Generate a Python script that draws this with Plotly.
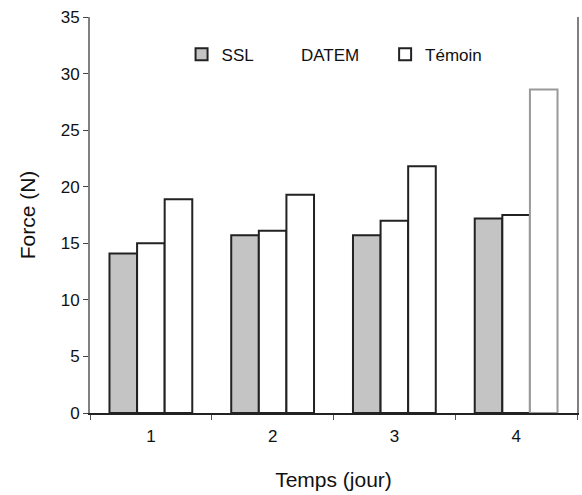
import plotly.graph_objects as go

days = ["1", "2", "3", "4"]
ssl = [14.1, 15.7, 15.7, 17.2]
datem = [15.0, 16.1, 17.0, 17.5]
temoin = [18.9, 19.3, 21.8, 28.6]

FONT = "Liberation Sans, Arial, sans-serif"

fig = go.Figure()
fig.add_trace(go.Bar(name="SSL", x=days, y=ssl,
                     marker=dict(color="#c4c4c4", line=dict(color="#222222", width=2)),
                     legend="legend"))
fig.add_trace(go.Bar(name="DATEM", x=days, y=datem,
                     marker=dict(color="white", line=dict(color="#222222", width=2)),
                     showlegend=False))
fig.add_trace(go.Bar(name="Témoin", x=days, y=temoin,
                     marker=dict(color="white",
                                 line=dict(color=["#222222", "#222222", "#222222", "#999999"], width=2)),
                     legend="legend3"))
# legend entry for DATEM (its symbol is blank in the original)
fig.add_trace(go.Scatter(name="DATEM", x=[None], y=[None], mode="markers",
                         marker=dict(symbol="square", color="white", size=10,
                                     line=dict(color="white", width=0)),
                         legend="legend2"))

legend_common = dict(orientation="h", yanchor="middle", y=0.905, xanchor="left",
                     bgcolor="rgba(0,0,0,0)", font=dict(family=FONT, size=17, color="#111"))

fig.update_layout(
    width=582, height=495,
    margin=dict(l=90, r=5, t=17, b=82),
    paper_bgcolor="white", plot_bgcolor="white",
    barmode="group", bargap=0.32, bargroupgap=0,
    font=dict(family=FONT, size=17, color="#111"),
    showlegend=True,
    legend=dict(legend_common, x=0.188),
    legend2=dict(legend_common, x=0.351),
    legend3=dict(legend_common, x=0.606),
)
fig.update_xaxes(
    type="category", showgrid=False, showline=True, linecolor="#222", linewidth=2,
    ticks="outside", tickson="boundaries", ticklen=5, tickcolor="#555",
    ticklabelstandoff=7,
    tickfont=dict(family=FONT, size=17), automargin=False,
    title=dict(text="Temps (jour)", font=dict(family=FONT, size=21), standoff=27),
)
fig.update_yaxes(
    range=[0, 35], dtick=5, showgrid=False, zeroline=False,
    showline=True, linecolor="#808080", linewidth=2, mirror=True,
    ticks="outside", ticklen=5, tickcolor="#444",
    tickfont=dict(family=FONT, size=17), automargin=False,
    title=dict(text="Force (N)", font=dict(family=FONT, size=21), standoff=19),
)

fig.write_html("out.html", config={"responsive": False, "displayModeBar": False},
               post_script="document.body.style.margin='0';document.body.style.overflow='hidden';")
